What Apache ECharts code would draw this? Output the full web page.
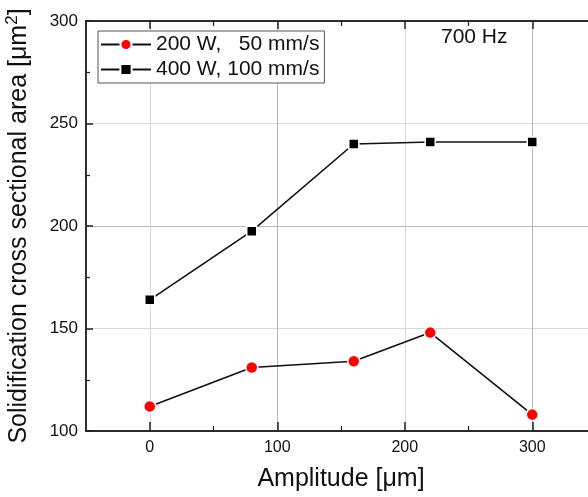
<!DOCTYPE html>
<html><head><meta charset="utf-8">
<script src="https://cdn.jsdelivr.net/npm/echarts@6/dist/echarts.min.js"></script>
<style>html,body{margin:0;padding:0;background:#fff}#c{width:588px;height:497px}</style>
</head><body><div id="c"></div>
<script>
const amplitude = [0, 80, 160, 220, 300];
const series200 = [112, 131, 134, 148, 108];
const series400 = [164, 197.5, 240, 241, 241];
const name200 = '200 W,   50 mm/s';
const name400 = '400 W, 100 mm/s';
const xMajorTicks = [0, 100, 200, 300];
const xMinorTicks = [50, 150, 250];
const yMajorTicks = [100, 150, 200, 250, 300];
const yMinorTicks = [125, 175, 225, 275];
const FONT = 'Arial, "Liberation Sans", sans-serif';
const AX = '#222';

const chart = echarts.init(document.getElementById('c'), null, {renderer: 'canvas'});
const baseX = {type: 'value', min: -50, max: 350, gridIndex: 0};
const baseY = {type: 'value', min: 100, max: 300, gridIndex: 0};
chart.setOption({
  animation: false,
  backgroundColor: '#fff',
  grid: {left: 86, top: 21, right: -8, bottom: 66, containLabel: false, outerBoundsMode: 'none'},
  xAxis: [
    Object.assign({}, baseX, {
      position: 'bottom', interval: 50,
      name: 'Amplitude [μm]', nameLocation: 'middle', nameGap: 36,
      nameTextStyle: {fontFamily: FONT, fontSize: 25, color: '#111'},
      axisLine: {show: true, onZero: false, lineStyle: {color: AX, width: 1.5}},
      axisTick: {show: true, inside: true, length: 9, customValues: xMajorTicks, lineStyle: {color: AX, width: 1.5}},
      axisLabel: {show: true, customValues: xMajorTicks, margin: 9, fontFamily: FONT, fontSize: 16, color: '#111'},
      splitLine: {show: true, lineStyle: {color: ['#d8d8d8', '#b8b8b8'], width: 1}}
    }),
    Object.assign({}, baseX, {
      position: 'top',
      axisLine: {show: true, onZero: false, lineStyle: {color: AX, width: 1.5}},
      axisTick: {show: true, inside: true, length: 8, customValues: xMajorTicks, lineStyle: {color: AX, width: 1.5}},
      axisLabel: {show: false}, splitLine: {show: false}
    }),
    Object.assign({}, baseX, {
      position: 'bottom', offset: 0,
      axisLine: {show: true, onZero: false, lineStyle: {color: AX, width: 1.5}},
      axisTick: {show: true, inside: true, length: 5, customValues: xMinorTicks, lineStyle: {color: AX, width: 1.2}},
      axisLabel: {show: false}, splitLine: {show: false}
    }),
    Object.assign({}, baseX, {
      position: 'top', offset: 0,
      axisLine: {show: true, onZero: false, lineStyle: {color: AX, width: 1.5}},
      axisTick: {show: true, inside: true, length: 5, customValues: xMinorTicks, lineStyle: {color: AX, width: 1.2}},
      axisLabel: {show: false}, splitLine: {show: false}
    })
  ],
  yAxis: [
    Object.assign({}, baseY, {
      position: 'left', interval: 25,
      name: 'Solidification cross sectional area [μm{sup|2}]', nameLocation: 'middle', nameGap: 51,
      nameTextStyle: {fontFamily: FONT, fontSize: 25, color: '#111',
        rich: {sup: {fontFamily: FONT, fontSize: 17, color: '#111', padding: [0, 0, 14, 0]}}},
      axisLine: {show: true, onZero: false, lineStyle: {color: AX, width: 1.5}},
      axisTick: {show: true, inside: true, length: 7, customValues: yMajorTicks, lineStyle: {color: AX, width: 1.5}},
      axisLabel: {show: true, customValues: yMajorTicks, margin: 8, fontFamily: FONT, fontSize: 17, color: '#111'},
      splitLine: {show: true, lineStyle: {color: ['#b8b8b8', '#d8d8d8'], width: 1}}
    }),
    Object.assign({}, baseY, {
      position: 'left', offset: 0,
      axisLine: {show: true, onZero: false, lineStyle: {color: AX, width: 1.5}},
      axisTick: {show: true, inside: true, length: 4, customValues: yMinorTicks, lineStyle: {color: AX, width: 1.2}},
      axisLabel: {show: false}, splitLine: {show: false}
    })
  ],
  legend: {
    show: true, orient: 'vertical', left: 98, top: 31,
    backgroundColor: '#fff', borderColor: '#555', borderWidth: 1,
    padding: [3, 5, 3, 2], itemGap: 4, itemWidth: 50, itemHeight: 14,
    textStyle: {fontFamily: FONT, fontSize: 21, color: '#111'},
    data: [name200, name400]
  },
  graphic: [{
    type: 'text', left: 441, top: 27,
    style: {text: '700 Hz', fontFamily: FONT, fontSize: 21, fill: '#111'}
  }],
  series: [
    {
      name: name200, type: 'line', xAxisIndex: 0, yAxisIndex: 0,
      data: amplitude.map((x, i) => [x, series200[i]]),
      symbol: 'circle', symbolSize: 12,
      itemStyle: {color: '#ff0000', borderColor: '#fff', borderWidth: 1.5},
      lineStyle: {color: '#111', width: 1.6}, z: 3
    },
    {
      name: name400, type: 'line', xAxisIndex: 0, yAxisIndex: 0,
      data: amplitude.map((x, i) => [x, series400[i]]),
      symbol: 'rect', symbolSize: 10,
      itemStyle: {color: '#000', borderColor: '#fff', borderWidth: 1.5},
      lineStyle: {color: '#111', width: 1.6}, z: 3
    }
  ]
});
</script></body></html>
